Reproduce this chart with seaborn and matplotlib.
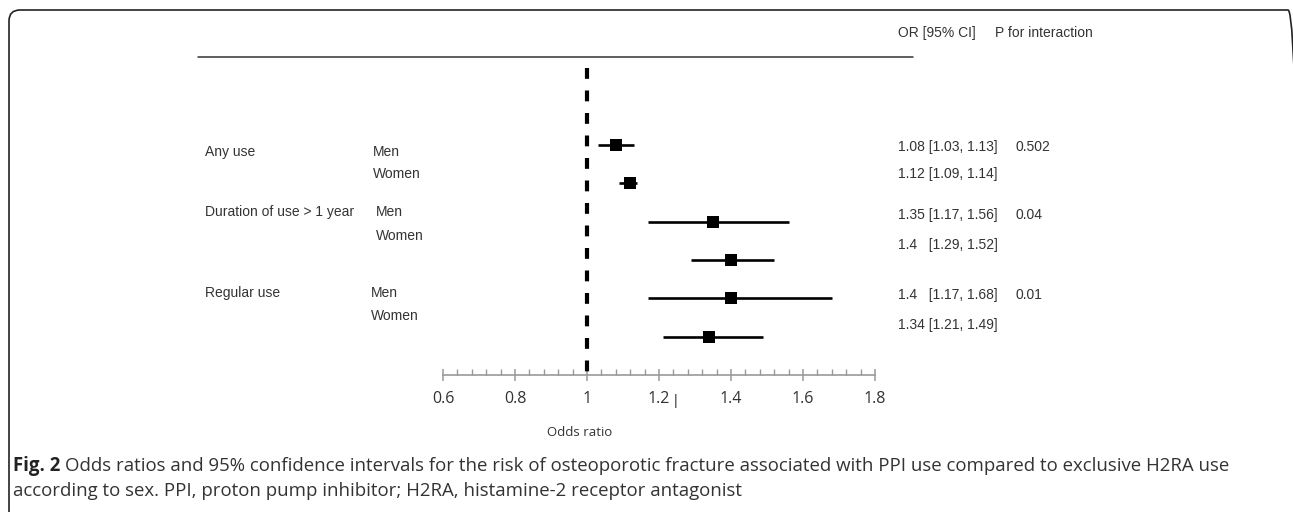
import matplotlib
matplotlib.use("Agg")
import matplotlib.pyplot as plt
import numpy as np
import pandas as pd
import seaborn as sns
from matplotlib.patches import FancyBboxPatch
from matplotlib.transforms import IdentityTransform
from matplotlib.ticker import MultipleLocator


# data
exposures = ["Any use", "Duration of use > 1 year", "Regular use"]
sexes = ["Men", "Women"]
odds_ratio = [1.08, 1.12, 1.35, 1.40, 1.40, 1.34]
ci_low = [1.03, 1.09, 1.17, 1.29, 1.17, 1.21]
ci_high = [1.13, 1.14, 1.56, 1.52, 1.68, 1.49]
or_text = ["1.08 [1.03, 1.13]", "1.12 [1.09, 1.14]", "1.35 [1.17, 1.56]",
           "1.4   [1.29, 1.52]", "1.4   [1.17, 1.68]", "1.34 [1.21, 1.49]"]
p_interaction = ["0.502", "0.04", "0.01"]
x_ticks = [0.6, 0.8, 1.0, 1.2, 1.4, 1.6, 1.8]
x_tick_labels = ["0.6", "0.8", "1", "1.2", "1.4", "1.6", "1.8"]

W, H = 1293, 512
TEXT_FONT = ["Liberation Sans", "DejaVu Sans"]
CAP_FONT = ["Open Sans", "DejaVu Sans"]


def px(x, y):
    # pixel position (from top left) -> figure fraction
    return x / W, 1 - y / H


df = pd.DataFrame({
    "row": np.arange(len(odds_ratio)),
    "or_": odds_ratio,
    "lo": ci_low,
    "hi": ci_high,
})

sns.set_theme(style="white")
plt.rcParams["font.family"] = TEXT_FONT

fig = plt.figure(figsize=(W / 100, H / 100), dpi=100)
ax_left, ax_right = 443, 875
ax_top, ax_bottom = 57, 375
ax = fig.add_axes([ax_left / W, 1 - ax_bottom / H,
                   (ax_right - ax_left) / W, (ax_bottom - ax_top) / H])
ax.patch.set_alpha(0)

# reference line at OR = 1
ax.vlines(1.0, -2.0, len(df), colors="black", linewidth=3.0,
          linestyles=(0, (2.6, 2.8)))

# confidence intervals + point estimates
ax.hlines(df["row"], df["lo"], df["hi"], colors="black", linewidth=1.9)
sns.scatterplot(data=df, x="or_", y="row", marker="s", s=74, color="black",
                edgecolor="black", linewidth=0, ax=ax, legend=False, zorder=3)

ax.set_xlim(0.6, 1.8)
ax.set_ylim(6.0, -2.3)
ax.set_xlabel("")
ax.set_ylabel("")
ax.set_yticks([])
ax.set_xticks(x_ticks)
ax.set_xticklabels(x_tick_labels, fontfamily=CAP_FONT, fontsize=11.5, color="#333333")
ax.xaxis.set_minor_locator(MultipleLocator(0.04))
ax.tick_params(axis="x", which="major", direction="inout", length=9, width=1.1,
               color="#999999", pad=7, bottom=True)
ax.tick_params(axis="x", which="minor", direction="in", length=4, width=1.0,
               color="#999999", bottom=True)
for side in ["top", "right", "left"]:
    ax.spines[side].set_visible(False)
ax.spines["bottom"].set_color("#999999")
ax.spines["bottom"].set_linewidth(1.2)

# stray mark next to 1.2 in the original
fig.text(*px(676, 401), "|", fontsize=10, color="#333333", ha="center", va="center")

fig.text(*px(580, 433), "Odds ratio", fontfamily=CAP_FONT, fontsize=9.5,
         color="#333333", ha="center", va="center")

# header line and headings
fig.add_artist(plt.Line2D([198 / W, 913 / W], [1 - 57 / H, 1 - 57 / H],
                          color="#333333", linewidth=1.1))
fig.text(*px(898, 33), "OR [95% CI]", fontsize=10, color="#333333", va="center")
fig.text(*px(995, 33), "P for interaction", fontsize=10, color="#333333", va="center")

# row labels
group_y = [152, 212, 293]
sex_y = [152, 174, 212, 236, 293, 316]
sex_x = [373, 373, 376, 376, 371, 371]
value_y = [147, 174, 215, 245, 295, 325]

for i, name in enumerate(exposures):
    fig.text(*px(205, group_y[i]), name, fontsize=10, color="#333333", va="center")
    fig.text(*px(1015, value_y[2 * i]), p_interaction[i], fontsize=10,
             color="#333333", va="center")
for i in range(len(odds_ratio)):
    fig.text(*px(sex_x[i], sex_y[i]), sexes[i % 2], fontsize=10, color="#333333",
             va="center")
    fig.text(*px(898, value_y[i]), or_text[i], fontsize=10, color="#333333",
             va="center")

# caption
bold = fig.text(*px(13, 466), "Fig. 2", fontfamily=CAP_FONT, fontsize=13.4,
                fontweight="bold", color="#222222", va="center")
ax.annotate("Odds ratios and 95% confidence intervals for the risk of osteoporotic "
            "fracture associated with PPI use compared to exclusive H2RA use",
            xy=(1, 0.5), xycoords=bold, xytext=(5, 0), textcoords="offset pixels",
            fontfamily=CAP_FONT, fontsize=13.4, color="#333333",
            va="center", ha="left", annotation_clip=False)
fig.text(*px(13, 491), "according to sex. PPI, proton pump inhibitor; H2RA, "
         "histamine-2 receptor antagonist", fontfamily=CAP_FONT, fontsize=13.4,
         color="#333333", va="center")

# rounded frame, cut by the right and bottom edges
frame = FancyBboxPatch((9, -60), 1290, H - 10 + 60,
                       boxstyle="round,pad=0,rounding_size=11",
                       transform=IdentityTransform(), facecolor="none",
                       edgecolor="#222222", linewidth=1.2)
fig.add_artist(frame)

fig.savefig("out.png", dpi=100)
